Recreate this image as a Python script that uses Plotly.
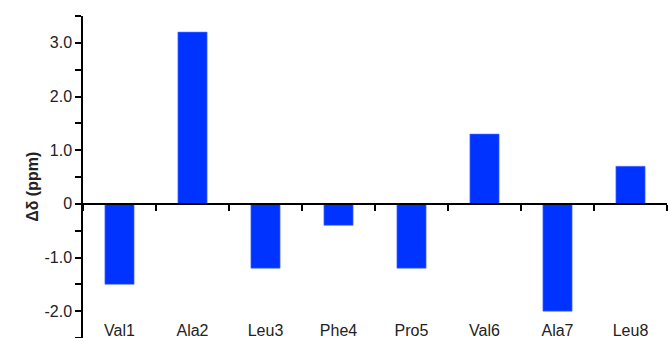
import plotly.graph_objects as go

residues = ["Val1", "Ala2", "Leu3", "Phe4", "Pro5", "Val6", "Ala7", "Leu8"]
delta_ppm = [-1.5, 3.2, -1.2, -0.4, -1.2, 1.3, -2.0, 0.7]

y_tick_vals = [3.0, 2.0, 1.0, 0.0, -1.0, -2.0]
y_tick_text = ["3.0", "2.0", "1.0", "0", "-1.0", "-2.0"]
y_range = [-2.5, 3.5]

positions = list(range(len(residues)))
boundaries = [p - 0.5 for p in positions] + [positions[-1] + 0.5]
x_range = [boundaries[0], boundaries[-1]]

text_color = "#222222"
font_family = "Liberation Sans, Arial, sans-serif"

fig = go.Figure()
fig.add_trace(go.Bar(
    x=positions, y=delta_ppm, width=0.4,
    marker=dict(color="#0033ff", line=dict(color="#5577ff", width=0.6)),
    hoverinfo="skip", showlegend=False,
))
# carrier trace so the label axis is drawn
fig.add_trace(go.Scatter(
    x=positions, y=delta_ppm, xaxis="x2", mode="markers",
    marker=dict(opacity=0), hoverinfo="skip", showlegend=False,
))

zero_pos = (0 - y_range[0]) / (y_range[1] - y_range[0])

fig.update_layout(
    width=668, height=338,
    margin=dict(l=83, r=1, t=16, b=0),
    paper_bgcolor="white", plot_bgcolor="white",
    font=dict(family=font_family, size=16, color=text_color),
    xaxis=dict(
        range=x_range, anchor="free", position=zero_pos,
        showline=True, linecolor="black", linewidth=1.5,
        tickvals=boundaries, showticklabels=False,
        ticks="outside", ticklen=6, tickwidth=1.5, tickcolor="black",
        showgrid=False, zeroline=False,
    ),
    xaxis2=dict(
        range=x_range, overlaying="x", anchor="free", position=0.06,
        side="bottom", showline=False, ticks="",
        tickvals=positions, ticktext=residues,
        tickfont=dict(size=16, color=text_color),
        showgrid=False, zeroline=False,
    ),
    yaxis=dict(
        range=y_range, showline=True, linecolor="black", linewidth=1.5,
        tickvals=y_tick_vals, ticktext=y_tick_text,
        ticks="outside", ticklen=6, tickwidth=1.5, tickcolor="black",
        minor=dict(dtick=0.5, ticks="outside", ticklen=6, tickwidth=1.5,
                   tickcolor="black", showgrid=False),
        tickfont=dict(size=16, color=text_color),
        showgrid=False, zeroline=False,
    ),
    annotations=[dict(
        text="<b>Δδ (ppm)</b>", xref="paper", yref="paper",
        x=-0.105, y=0.47, textangle=-90, showarrow=False,
        font=dict(size=16, color=text_color),
    )],
)

fig.write_html("out.html")
